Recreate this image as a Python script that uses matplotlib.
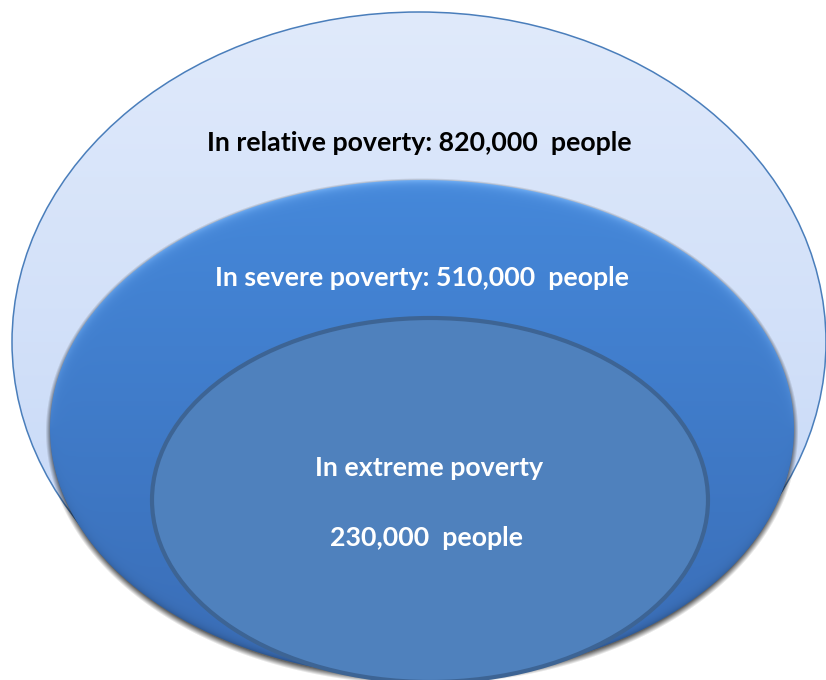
import numpy as np
import matplotlib
matplotlib.use('Agg')
import matplotlib.pyplot as plt
from matplotlib.patches import Ellipse

plt.rcParams['font.family'] = ['Lato', 'DejaVu Sans']

# nested groups, outermost first
groups = ['In relative poverty', 'In severe poverty', 'In extreme poverty']
people = [820000, 510000, 230000]

W, H = 826, 680

# ellipse geometry (centre x, centre y, half width, half height) in pixels
outer = (419, 342, 407, 330)
middle = (422, 429, 372, 249)
inner = (430, 500, 278, 182)

yy, xx = np.mgrid[0:H, 0:W] + 0.5


def ellipse_dist(cx, cy, a, b, dy=0.0):
    # approximate signed distance in pixels (positive inside)
    x = xx - cx
    y = yy - cy - dy
    r = np.sqrt((x / a) ** 2 + (y / b) ** 2) + 1e-9
    gx = x / a ** 2 / r
    gy = y / b ** 2 / r
    g = np.sqrt(gx ** 2 + gy ** 2) + 1e-9
    return (1 - r) / g, r


def hex2rgb(h):
    h = h.lstrip('#')
    return np.array([int(h[i:i + 2], 16) / 255 for i in (0, 2, 4)])


def vgrad(top, bottom, y0, y1):
    t = np.clip((yy - y0) / (y1 - y0), 0, 1)[..., None]
    return hex2rgb(top) * (1 - t) + hex2rgb(bottom) * t


fig = plt.figure(figsize=(W / 100, H / 100), dpi=100)
ax = fig.add_axes([0, 0, 1, 1])
ax.set_xlim(0, W)
ax.set_ylim(H, 0)
ax.axis('off')

ext = (0, W, H, 0)

# outer ellipse: pale blue vertical gradient
d, _ = ellipse_dist(*outer)
rgb = vgrad('#e0eafb', '#c3d6f7', outer[1] - outer[3], outer[1] + outer[3])
img = np.dstack([rgb, np.clip(d + 0.5, 0, 1)])
ax.imshow(img, extent=ext, interpolation='bilinear', zorder=1)
ax.add_patch(Ellipse(outer[:2], 2 * outer[2], 2 * outer[3], fill=False,
                     ec='#4a7ebb', lw=1.1, zorder=2))

# soft shadow under the middle ellipse
d_sh, _ = ellipse_dist(*middle, dy=2.5)
sh = np.clip((d_sh + 4.5) / 6, 0, 1) * 0.6
img = np.zeros((H, W, 4))
img[..., 3] = sh
ax.imshow(img, extent=ext, interpolation='bilinear', zorder=3)

# middle ellipse: blue gradient with a light bevel along the top rim
d, r = ellipse_dist(*middle)
rgb = vgrad('#4588da', '#3a6db6', middle[1] - middle[3], middle[1] + middle[3])
topness = np.clip(-(yy - middle[1]) / middle[3], 0, 1)[..., None]
rim = np.exp(-np.clip(d, 0, None) / 4.0)[..., None]
rgb = rgb + (hex2rgb('#78b4f8') - rgb) * rim * topness ** 0.7 * 0.9
low = np.clip((yy - middle[1]) / middle[3], 0, 1)[..., None]
rgb = rgb * (1 - rim * low * 0.25)
img = np.dstack([np.clip(rgb, 0, 1), np.clip(d + 0.5, 0, 1)])
ax.imshow(img, extent=ext, interpolation='bilinear', zorder=4)

# inner ellipse: flat fill with a darker rim
ax.add_patch(Ellipse(inner[:2], 2 * inner[2], 2 * inner[3], fc='#4f81bd',
                     ec='#3d6494', lw=3.0, zorder=5))

labels = [f'{groups[0]}: {people[0]:,}  people',
          f'{groups[1]}: {people[1]:,}  people',
          groups[2],
          f'{people[2]:,}  people']
fs = 19.3
ax.text(419, 151, labels[0], ha='center', va='baseline', fontsize=fs,
        fontweight='bold', color='black', zorder=6)
ax.text(422, 286, labels[1], ha='center', va='baseline', fontsize=fs,
        fontweight='bold', color='white', zorder=6)
ax.text(429, 476, labels[2], ha='center', va='baseline', fontsize=fs,
        fontweight='bold', color='white', zorder=6)
ax.text(427, 546, labels[3], ha='center', va='baseline', fontsize=fs,
        fontweight='bold', color='white', zorder=6)

fig.savefig('out.png', dpi=100, facecolor='white')
